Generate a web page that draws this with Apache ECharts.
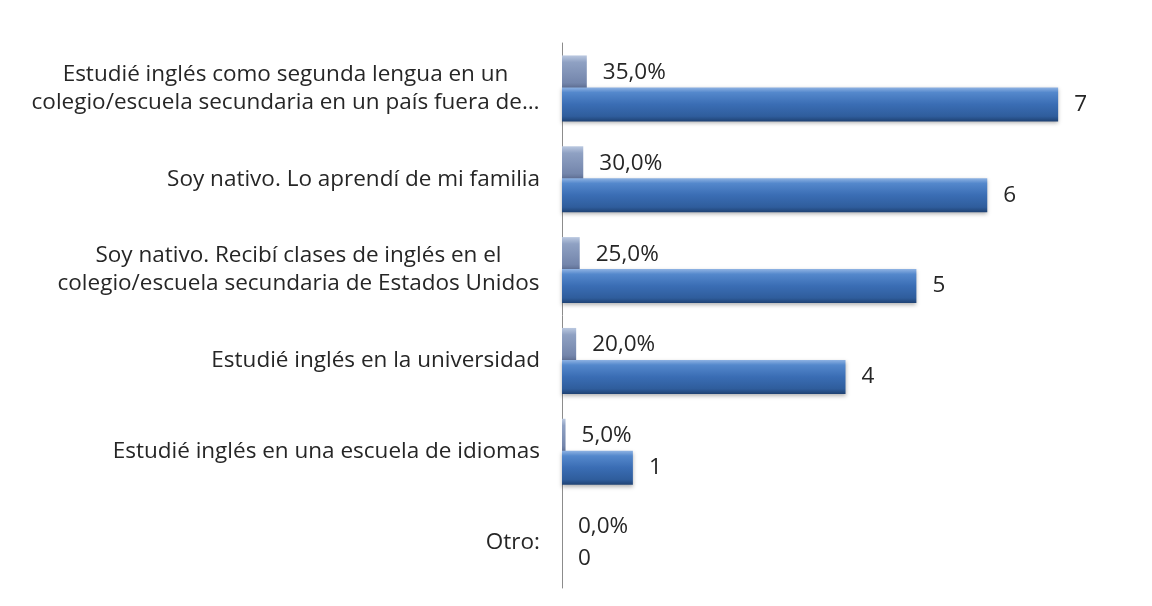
<!DOCTYPE html>
<html>
<head>
<meta charset="utf-8">
<script src="https://cdn.jsdelivr.net/npm/echarts@6/dist/echarts.min.js"></script>
<style>
  html, body { margin: 0; padding: 0; background: #fff; }
  #chart { width: 1152px; height: 606px; }
</style>
</head>
<body>
<div id="chart"></div>
<script>
// categories, top to bottom
var categories = [
    'Estudié inglés como segunda lengua en un\ncolegio/escuela secundaria en un país fuera de…',
    'Soy nativo. Lo aprendí de mi familia',
    'Soy nativo. Recibí clases de inglés en el\ncolegio/escuela secundaria de Estados Unidos',
    'Estudié inglés en la universidad',
    'Estudié inglés en una escuela de idiomas',
    'Otro:'
];
var percents = [0.35, 0.30, 0.25, 0.20, 0.05, 0];
var counts = [7, 6, 5, 4, 1, 0];

var fontFam = '"Open Sans", "Noto Sans", sans-serif';
var fontSize = 22.5;

// two-line labels: lines centred on each other, block right-aligned to the axis
var ctx = document.createElement('canvas').getContext('2d');
ctx.font = fontSize + 'px ' + fontFam;
var rich = {};
categories.forEach(function (c, i) {
    var w = Math.max.apply(null, c.split('\n').map(function (l) { return ctx.measureText(l).width; }));
    rich['c' + i] = { width: Math.ceil(w) + 1, align: 'center', fontSize: fontSize, fontFamily: fontFam, color: '#262626', lineHeight: 28 };
});

var chart = echarts.init(document.getElementById('chart'));
chart.setOption({
    animation: false,
    grid: { left: 562, right: 23, top: 43, bottom: 18 },
    xAxis: {
        type: 'value', min: 0, max: 8,
        show: false
    },
    yAxis: {
        type: 'category',
        data: categories,
        inverse: true,
        axisLine: { show: true, lineStyle: { color: '#8c8c8c', width: 1 } },
        axisTick: { show: false },
        axisLabel: {
            color: '#262626', fontSize: fontSize, fontFamily: fontFam,
            lineHeight: 28, margin: 22, align: 'right',
            formatter: function (v, i) {
                var lines = v.split('\n');
                if (lines.length < 2) return v;
                return lines.map(function (l) { return '{c' + i + '|' + l + '}'; }).join('\n');
            },
            rich: rich
        }
    },
    series: [
        {
            name: 'pct',
            type: 'bar',
            data: percents,
            barWidth: 34,
            barGap: '-6%',
            itemStyle: {
                color: new echarts.graphic.LinearGradient(0, 0, 0, 1, [
                    { offset: 0, color: '#bac8e0' },
                    { offset: 0.2, color: '#8fa1c3' },
                    { offset: 0.8, color: '#7486ac' },
                    { offset: 1, color: '#5a6b90' }
                ])
            },
            label: {
                show: true, position: 'right', distance: 16,
                color: '#262626', fontSize: fontSize, fontFamily: fontFam,
                formatter: function (p) { return (p.value * 100).toFixed(1).replace('.', ',') + '%'; }
            }
        },
        {
            name: 'count',
            type: 'bar',
            data: counts,
            barWidth: 34,
            itemStyle: {
                color: new echarts.graphic.LinearGradient(0, 0, 0, 1, [
                    { offset: 0, color: '#8fb3e3' },
                    { offset: 0.15, color: '#5488cc' },
                    { offset: 0.5, color: '#3a6db4' },
                    { offset: 0.85, color: '#2f5d9c' },
                    { offset: 1, color: '#1f4273' }
                ]),
                shadowColor: 'rgba(0,0,0,0.3)', shadowBlur: 4, shadowOffsetY: 2
            },
            label: {
                show: true, position: 'right', distance: 16,
                color: '#262626', fontSize: fontSize, fontFamily: fontFam
            }
        }
    ]
});
</script>
</body>
</html>
